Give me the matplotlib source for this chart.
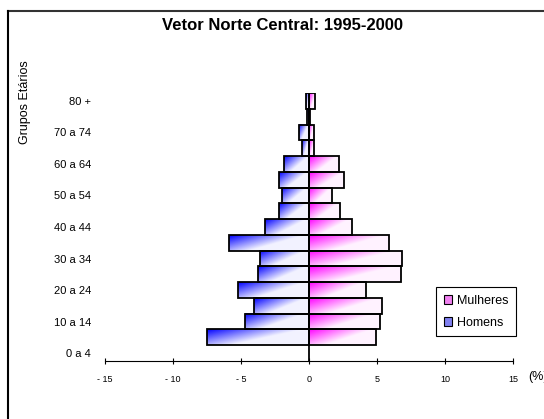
import matplotlib
matplotlib.use("Agg")
import matplotlib.pyplot as plt
import numpy as np
from matplotlib.colors import to_rgb
from matplotlib.lines import Line2D
from matplotlib.patches import Patch, Rectangle

plt.rcParams["font.family"] = ["Liberation Sans", "DejaVu Sans"]

# Dados (percentual da populacao por grupo etario, 0 a 4 ate 80 +)
grupos = ["0 a 4", "5 a 9", "10 a 14", "15 a 19", "20 a 24", "25 a 29",
          "30 a 34", "35 a 39", "40 a 44", "45 a 49", "50 a 54", "55 a 59",
          "60 a 64", "65 a 69", "70 a 74", "75 a 79", "80 +"]
homens = [0.0, -7.45, -4.7, -4.0, -5.2, -3.75, -3.6, -5.85, -3.2, -2.2,
          -1.95, -2.2, -1.85, -0.5, -0.7, -0.1, -0.2]
mulheres = [0.0, 4.97, 5.2, 5.37, 4.2, 6.75, 6.85, 5.9, 3.15, 2.27,
            1.7, 2.6, 2.2, 0.4, 0.35, 0.1, 0.45]
xticks = [-15, -10, -5, 0, 5, 10, 15]
xticklabels = ["- 15", "- 10", "- 5", "0", "5", "10", "15"]


def gradiente(cor, n=80):
    """Gradiente diagonal: cor cheia no canto superior esquerdo, quase branco a direita."""
    u = np.linspace(0, 1, n)
    v = np.linspace(0, 1, n)
    uu, vv = np.meshgrid(u, v)
    t = np.clip(1.05 * uu + 0.75 * vv, 0, 1)[..., None]
    base = np.array(to_rgb(cor))
    claro = np.ones(3) * 0.95 + base * 0.05
    return base * (1 - t) + claro * t


def barra_gradiente(ax, y, largura, cor):
    if largura == 0:
        return
    x0, x1 = sorted([0.0, largura])
    ax.imshow(gradiente(cor), extent=[x0, x1, y - 0.5, y + 0.5], origin="upper",
              aspect="auto", interpolation="bilinear", zorder=2)
    ax.add_patch(Rectangle((x0, y - 0.5), x1 - x0, 1.0, fill=False,
                           edgecolor="black", linewidth=1.3, zorder=3))


fig = plt.figure(figsize=(5.44, 4.19), dpi=100)
ax = fig.add_axes([104.7 / 544, 1 - 361 / 419, (513 - 104.7) / 544, 268 / 419])

posicoes = np.arange(len(grupos))
for y, h, m in zip(posicoes, homens, mulheres):
    barra_gradiente(ax, y, h, "#0000ff")
    barra_gradiente(ax, y, m, "#ff00ff")

ax.axvline(0, color="black", linewidth=1.3, zorder=4)

ax.set_xlim(-15, 15)
ax.set_ylim(-0.5, len(grupos) - 0.5)
ax.set_xticks(xticks)
ax.set_xticklabels(xticklabels, fontsize=6.5)
ax.set_yticks(posicoes[::2])
ax.set_yticklabels(grupos[::2], fontsize=8)
ax.tick_params(axis="y", length=0, pad=10)
ax.tick_params(axis="x", direction="inout", length=4, width=0.8, pad=8)

for lado in ["left", "right", "top"]:
    ax.spines[lado].set_visible(False)
ax.spines["bottom"].set_linewidth(0.8)

fig.text(282 / 544, 1 - 25 / 419, "Vetor Norte Central: 1995-2000",
         ha="center", va="center", fontsize=12, fontweight="bold")
fig.text(25 / 544, 1 - 102 / 419, "Grupos Etários", rotation=90,
         ha="center", va="center", fontsize=9)
fig.text(528 / 544, 1 - 377 / 419, "(%)", ha="left", va="center", fontsize=9)

handles = [Patch(facecolor="#f080f0", edgecolor="black", linewidth=0.8),
           Patch(facecolor="#8080f0", edgecolor="black", linewidth=0.8)]
leg = fig.legend(handles, ["Mulheres", "Homens"], loc="upper left",
                 bbox_to_anchor=(436 / 544, 1 - 287 / 419), fontsize=9,
                 fancybox=False, framealpha=1, edgecolor="black",
                 handlelength=0.7, handleheight=0.7, handletextpad=0.4,
                 borderpad=0.6, labelspacing=0.8, borderaxespad=0)
leg.get_frame().set_linewidth(0.8)

# moldura da figura (cortada a direita e embaixo)
fig.add_artist(Line2D([8 / 544, 1], [1 - 11 / 419, 1 - 11 / 419],
                      transform=fig.transFigure, color="#333333", linewidth=1.5))
fig.add_artist(Line2D([8 / 544, 8 / 544], [0, 1 - 11 / 419],
                      transform=fig.transFigure, color="black", linewidth=1.5))

fig.savefig("out.png", dpi=100, facecolor="white")
